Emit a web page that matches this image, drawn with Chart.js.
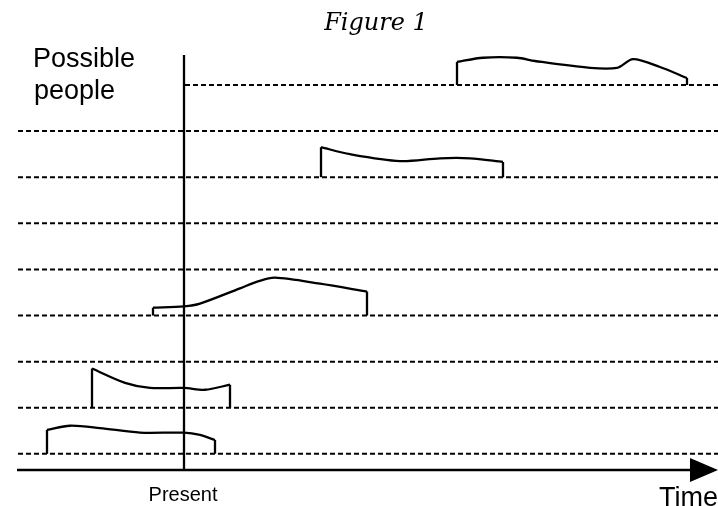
<!DOCTYPE html>
<html>
<head>
<meta charset="utf-8">
<script src="https://cdn.jsdelivr.net/npm/chart.js@4.4.0/dist/chart.umd.min.js"></script>
<style>
  html, body { margin: 0; padding: 0; background: #fff; }
  #wrap { width: 718px; height: 506px; }
</style>
</head>
<body>
<div id="wrap"><canvas id="fig" width="718" height="506"></canvas></div>
<script>
        // axis ranges (time units, row units)
        const timeRange = [-8.35, 26.7];
        const rowRange = [0.65, 9.65];
        const presentTime = 0;

        // dashed guide line for each possible person
        const guideRows = [1, 2, 3, 4, 5, 6, 7, 8, 9];
        const guideStart = [-8.3, -8.3, -8.3, -8.3, -8.3, -8.3, -8.3, -8.3, 0.05];

        // life curves: time points and height above the person's row
        const lifeA_row = 9;
        const lifeA_time = [13.65, 14.95, 16.65, 17.55, 20.3, 21.65, 22.45, 23.8, 25.15];
        const lifeA_level = [0.50, 0.59, 0.59, 0.52, 0.37, 0.37, 0.56, 0.39, 0.15];

        const lifeB_row = 7;
        const lifeB_time = [6.85, 8.3, 10.8, 12.8, 14.3, 15.95];
        const lifeB_level = [0.65, 0.50, 0.35, 0.41, 0.41, 0.33];

        const lifeC_row = 4;
        const lifeC_time = [-1.55, 0, 0.8, 2.8, 3.7, 4.55, 6.8, 9.15];
        const lifeC_level = [0.17, 0.20, 0.26, 0.59, 0.74, 0.82, 0.69, 0.52];

        const lifeD_row = 2;
        const lifeD_time = [-4.6, -2.95, -1.7, 0, 1.05, 2.3];
        const lifeD_level = [0.85, 0.54, 0.43, 0.43, 0.39, 0.50];

        const lifeE_row = 1;
        const lifeE_time = [-6.85, -5.7, -4.2, -2.2, 0, 0.8, 1.55];
        const lifeE_level = [0.52, 0.61, 0.56, 0.46, 0.46, 0.41, 0.30];

        const solid = {
            borderColor: '#000',
            borderWidth: 2.3,
            pointRadius: 0,
            showLine: true,
            clip: false
        };

        function lifeDatasets(times, levels, row) {
            const pts = times.map((t, i) => ({ x: t, y: row + levels[i] }));
            const first = pts[0];
            const last = pts[pts.length - 1];
            return [
                Object.assign({ data: pts, tension: 0.3 }, solid),
                Object.assign({ data: [{ x: first.x, y: row }, first], tension: 0 }, solid),
                Object.assign({ data: [last, { x: last.x, y: row }], tension: 0 }, solid)
            ];
        }

        const datasets = [];

        // dashed guides
        guideRows.forEach((r, i) => {
            datasets.push({
                data: [{ x: guideStart[i], y: r }, { x: timeRange[1], y: r }],
                borderColor: '#000',
                borderWidth: 2,
                borderDash: [5, 3],
                pointRadius: 0,
                showLine: true,
                clip: false
            });
        });

        datasets.push(...lifeDatasets(lifeA_time, lifeA_level, lifeA_row));
        datasets.push(...lifeDatasets(lifeB_time, lifeB_level, lifeB_row));
        datasets.push(...lifeDatasets(lifeC_time, lifeC_level, lifeC_row));
        datasets.push(...lifeDatasets(lifeD_time, lifeD_level, lifeD_row));
        datasets.push(...lifeDatasets(lifeE_time, lifeE_level, lifeE_row));

        // present line
        datasets.push(Object.assign({
            data: [{ x: presentTime, y: rowRange[1] }, { x: presentTime, y: rowRange[0] }]
        }, solid));

        // time axis
        datasets.push(Object.assign({
            data: [{ x: timeRange[0], y: rowRange[0] }, { x: timeRange[1] - 0.6, y: rowRange[0] }]
        }, solid, { borderWidth: 2.4 }));

        const labelsPlugin = {
            id: 'labels',
            afterDraw(chart) {
                const ctx = chart.ctx;
                const xs = chart.scales.x;
                const ys = chart.scales.y;
                const axisY = ys.getPixelForValue(rowRange[0]);
                const tipX = xs.getPixelForValue(timeRange[1]);
                ctx.save();

                // arrow head
                ctx.fillStyle = '#000';
                ctx.beginPath();
                ctx.moveTo(tipX, axisY);
                ctx.lineTo(tipX - 28, axisY - 12);
                ctx.lineTo(tipX - 28, axisY + 12);
                ctx.closePath();
                ctx.fill();

                ctx.fillStyle = '#000';
                ctx.textBaseline = 'alphabetic';

                ctx.font = 'italic 24px "DejaVu Serif"';
                ctx.textAlign = 'center';
                ctx.fillText('Figure 1', 376, 30);

                ctx.font = '27px "Liberation Sans"';
                ctx.textAlign = 'left';
                ctx.fillText('Possible', 33, 67);
                ctx.fillText('people', 34, 99);

                ctx.font = '20px "Liberation Sans"';
                ctx.textAlign = 'center';
                ctx.fillText('Present', xs.getPixelForValue(presentTime) - 1, 501);

                ctx.font = '27px "Liberation Sans"';
                ctx.textAlign = 'left';
                ctx.fillText('Time', 659, 506);
                ctx.restore();
            }
        };

        window.onload = function() {
            new Chart(document.getElementById('fig').getContext('2d'), {
                type: 'scatter',
                data: { datasets: datasets },
                options: {
                    responsive: false,
                    devicePixelRatio: 1,
                    animation: false,
                    layout: { padding: { left: 17, right: 0, top: 55, bottom: 36 } },
                    plugins: {
                        legend: { display: false },
                        tooltip: { enabled: false }
                    },
                    scales: {
                        x: { type: 'linear', min: timeRange[0], max: timeRange[1], display: false },
                        y: { type: 'linear', min: rowRange[0], max: rowRange[1], display: false }
                    }
                },
                plugins: [labelsPlugin]
            });
        };
</script>
</body>
</html>
